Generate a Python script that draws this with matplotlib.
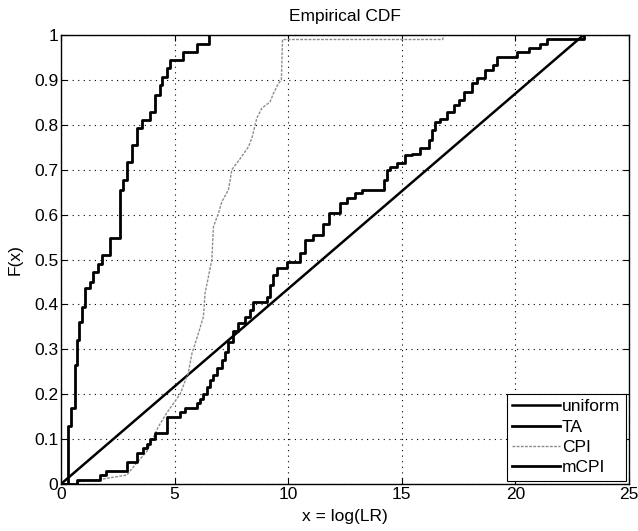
import matplotlib
matplotlib.use("Agg")
import matplotlib.pyplot as plt
from matplotlib.ticker import FormatStrFormatter

plt.rcParams['font.family'] = ['Liberation Sans', 'DejaVu Sans']

uniform_x = [0, 23.0]
uniform_y = [0, 1.0]

ta_x = [0, 0.3, 0.44, 0.62, 0.69, 0.79, 0.91, 1.06, 1.28, 1.42, 1.64, 1.79, 2.16,
        2.6, 2.75, 2.89, 3.11, 3.33, 3.55, 3.92, 4.14, 4.36, 4.46, 4.65, 4.8,
        5.38, 5.98, 6.5]
ta_y = [0, 0.13, 0.17, 0.265, 0.32, 0.36, 0.395, 0.436, 0.45, 0.473, 0.49, 0.51, 0.548,
        0.655, 0.677, 0.718, 0.755, 0.792, 0.81, 0.829, 0.866, 0.889, 0.907, 0.926, 0.944,
        0.963, 0.981, 1.0]

cpi_x = [0.75, 1.7, 2.9, 3.33, 3.77, 4.29, 4.65, 5.24, 5.6, 5.76, 6.05, 6.27, 6.34,
         6.49, 6.64, 6.71, 6.93, 7.08, 7.37, 7.52, 7.89, 8.25, 8.4, 8.62, 8.84, 9.2,
         9.35, 9.57, 9.7, 9.75, 16.8, 16.85]
cpi_y = [0.005, 0.01, 0.02, 0.047, 0.072, 0.128, 0.158, 0.2, 0.247, 0.29, 0.336, 0.373, 0.425,
         0.462, 0.5, 0.573, 0.603, 0.629, 0.655, 0.7, 0.725, 0.751, 0.77, 0.815, 0.837, 0.851,
         0.87, 0.892, 0.9, 0.99, 0.99, 1.0]

mcpi_x = [0, 0.69, 1.72, 2.0, 2.9, 3.33, 3.63, 3.77, 3.9, 4.14, 4.65, 5.24, 5.46, 5.98,
          6.12, 6.27, 6.42, 6.56, 6.71, 6.86, 7.08, 7.22, 7.37, 7.59, 7.81, 8.1, 8.33,
          8.47, 9.06, 9.2, 9.35, 9.5, 9.94, 10.53, 10.75, 11.11, 11.55, 11.78, 12.29,
          12.58, 12.95, 13.25, 14.2, 14.35, 14.49, 14.79, 15.15, 15.45, 15.81, 16.18,
          16.33, 16.48, 16.7, 16.99, 17.28, 17.5, 17.72, 18.08, 18.3, 18.66, 19.03,
          19.18, 20.07, 20.58, 21.1, 21.39, 23.0]
mcpi_y = [0, 0.008, 0.02, 0.03, 0.05, 0.068, 0.08, 0.09, 0.1, 0.113, 0.15, 0.161, 0.169, 0.18,
          0.19, 0.2, 0.217, 0.232, 0.243, 0.258, 0.276, 0.295, 0.317, 0.34, 0.358, 0.373, 0.388,
          0.406, 0.417, 0.443, 0.465, 0.48, 0.495, 0.514, 0.543, 0.555, 0.58, 0.603, 0.625,
          0.636, 0.647, 0.655, 0.677, 0.7, 0.707, 0.714, 0.733, 0.736, 0.748, 0.766,
          0.788, 0.807, 0.814, 0.829, 0.844, 0.855, 0.874, 0.892, 0.904, 0.922, 0.933,
          0.951, 0.963, 0.97, 0.981, 0.992, 1.0]

fig = plt.figure(figsize=(6.38, 5.31), dpi=100)
ax = fig.add_axes([61 / 638, 47 / 531, 568 / 638, 449 / 531])

ax.plot(uniform_x, uniform_y, color='black', lw=1.8, label='uniform')
ax.step(ta_x, ta_y, where='post', color='black', lw=2.0, label='TA')
ax.plot(cpi_x, cpi_y, color='0.55', lw=1.0, ls=(0, (2, 1)), label='CPI')
ax.step(mcpi_x, mcpi_y, where='post', color='black', lw=2.0, label='mCPI')

ax.set_xlim(0, 25)
ax.set_ylim(0, 1)
ax.set_xticks(range(0, 26, 5))
ax.set_yticks([i / 10 for i in range(11)])
ax.yaxis.set_major_formatter(FormatStrFormatter('%g'))
ax.tick_params(direction='in', top=True, right=True, labelsize=12.5, length=4, pad=2)
ax.grid(True, color='black', ls=(0, (1, 4)), lw=0.8)
for s in ax.spines.values():
    s.set_linewidth(1.0)

ax.set_title('Empirical CDF', fontsize=12.5, pad=10)
ax.set_xlabel('x = log(LR)', fontsize=12.5, labelpad=5)
ax.set_ylabel('F(x)', fontsize=12.5, labelpad=8)

leg = ax.legend(loc='lower right', fontsize=12.5, handlelength=2.8, handletextpad=0.1,
                borderaxespad=0.2, borderpad=0.3, labelspacing=0.3, fancybox=False,
                framealpha=1)
leg.get_frame().set_edgecolor('black')
leg.get_frame().set_linewidth(0.8)

fig.savefig('out.png', dpi=100)
